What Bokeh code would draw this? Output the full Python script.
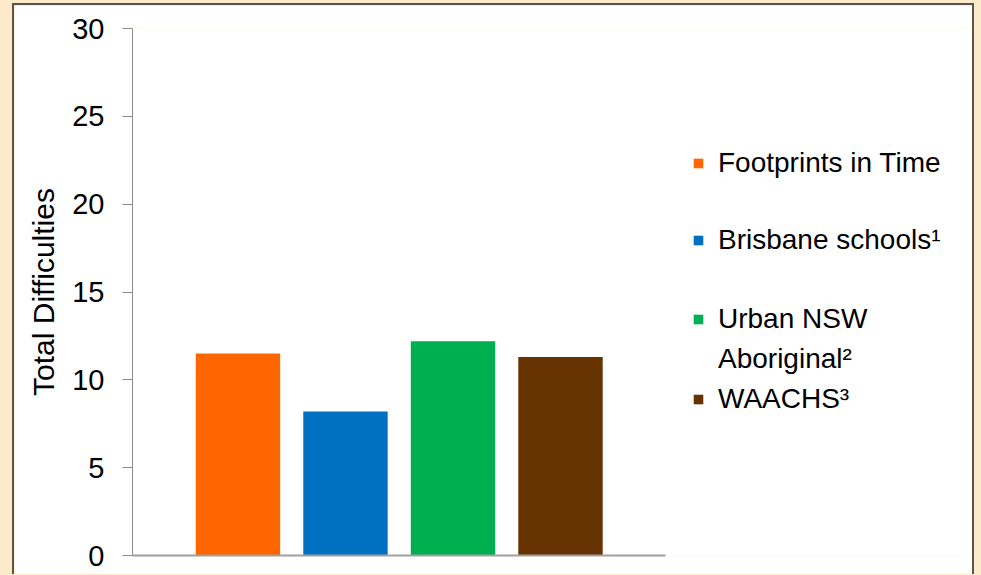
from bokeh.plotting import figure
from bokeh.models import Range1d, ColumnDataSource, Legend, LegendItem, FixedTicker
from bokeh.embed import file_html
from bokeh.resources import INLINE

# ---- data ----
categories = ["Footprints in Time", "Brisbane schools\u00b9", "Urban NSW\nAboriginal\u00b2", "WAACHS\u00b3"]
values = [11.5, 8.2, 12.2, 11.3]
colors = ["#FF6600", "#0070C0", "#00B050", "#663300"]
y_ticks = [0, 5, 10, 15, 20, 25, 30]
y_title = "Total Difficulties"

FONT = "Liberation Sans"
BORDER = "2px solid #5A534E"

xs = list(range(len(categories)))
src = ColumnDataSource(dict(x=xs, top=values, color=colors, label=categories))

# frame spans the whole right part so that the legend (inside it) is not clipped
px_per_unit = 107.0
frame_w = 839.0
x0 = -0.981
p = figure(width=962, height=571, output_backend="svg", toolbar_location=None,
           x_range=Range1d(x0, x0 + frame_w / px_per_unit),
           y_range=Range1d(0, 30),
           min_border_left=118, min_border_right=1, min_border_top=23, min_border_bottom=21,
           background_fill_color="white", border_fill_color="white")
p.styles = {"margin-left": "12px", "margin-top": "3px",
            "border-top": BORDER, "border-left": BORDER, "border-right": BORDER}
p.outline_line_color = None
p.grid.visible = False

r = p.vbar(x="x", top="top", bottom=0, width=0.785, fill_color="color", line_color=None, source=src)

# y axis
p.yaxis.ticker = FixedTicker(ticks=y_ticks)
p.yaxis.axis_label = y_title
p.yaxis.axis_label_text_font = FONT
p.yaxis.axis_label_text_font_size = "30px"
p.yaxis.axis_label_text_font_style = "normal"
p.yaxis.axis_label_text_color = "#000000"
p.yaxis.axis_label_standoff = 9
p.yaxis.major_label_text_font = FONT
p.yaxis.major_label_text_font_size = "29px"
p.yaxis.major_label_text_color = "#000000"
p.yaxis.major_label_standoff = 18
p.yaxis.axis_line_color = "#8C8C8C"
p.yaxis.major_tick_line_color = "#8C8C8C"
p.yaxis.major_tick_out = 10
p.yaxis.major_tick_in = 0
p.yaxis.minor_tick_line_color = None

# x axis: line only, limited to the bar area
p.xaxis.ticker = FixedTicker(ticks=[])
p.xaxis.bounds = (x0, len(categories) - 1 - x0)
p.xaxis.axis_line_color = "#A0A0A0"
p.xaxis.axis_line_width = 2
p.xaxis.major_tick_line_color = None
p.xaxis.minor_tick_line_color = None

# legend lines, placed individually (glyph only on the first line of each entry)
line_y = [[376], [299], [220, 180], [140]]
GW = 12
for i, lab in enumerate(categories):
    for j, text in enumerate(lab.split("\n")):
        first = j == 0
        leg = Legend(items=[LegendItem(label=text, renderers=[r], index=i)],
                     location=(560, line_y[i][j]),
                     padding=0, margin=0, border_line_color=None, background_fill_alpha=0,
                     glyph_width=GW if first else 0, glyph_height=GW,
                     label_standoff=14 if first else 14 + GW,
                     label_text_font=FONT, label_text_font_size="28px", label_text_color="#000000")
        p.add_layout(leg, "center")

html = file_html(p, INLINE)
html = html.replace("</head>", "<style>body{background:#FCEAC9;overflow:hidden;}</style></head>", 1)
open("out.html", "w").write(html)
